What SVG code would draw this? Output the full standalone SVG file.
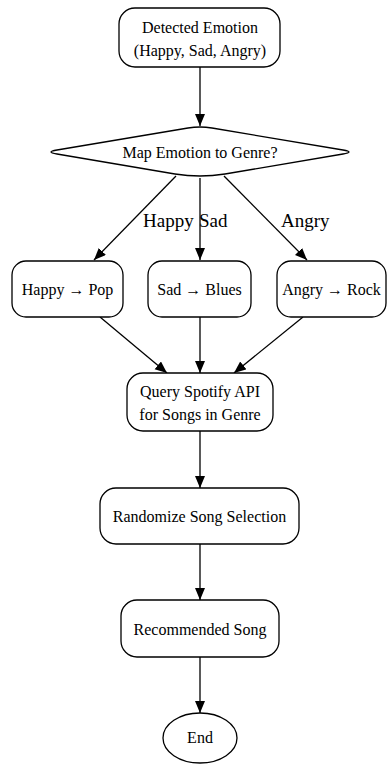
<svg xmlns="http://www.w3.org/2000/svg" width="387" height="767" viewBox="0 0 387 767">
<defs>
<marker id="ah" markerUnits="userSpaceOnUse" markerWidth="13" markerHeight="11" refX="12" refY="5" orient="auto">
<path d="M0,0 L12,5 L0,10 z" fill="#000"/>
</marker>
<style>
.n{fill:#fff;stroke:#000;stroke-width:1.3}
.t{font-size:16px;fill:#000;text-anchor:middle}
.l{font-size:19px;fill:#000}
.e{stroke:#000;stroke-width:1.3;fill:none;marker-end:url(#ah)}
</style>
</defs>
<rect width="387" height="767" fill="#fff"/>
<g font-family="Liberation Serif, DejaVu Serif, serif">
<g id="connectors">
<line class="e" x1="200" y1="67" x2="200" y2="126"/>
<line class="e" x1="176" y1="176" x2="94" y2="260"/>
<line class="e" x1="200" y1="178" x2="200" y2="260"/>
<line class="e" x1="224" y1="176" x2="307" y2="260"/>
<line class="e" x1="100" y1="317" x2="167" y2="373"/>
<line class="e" x1="200" y1="317" x2="200" y2="373"/>
<line class="e" x1="303" y1="317" x2="234" y2="373"/>
<line class="e" x1="200" y1="431" x2="200" y2="488"/>
<line class="e" x1="200" y1="544" x2="200" y2="600"/>
<line class="e" x1="200" y1="657" x2="200" y2="713"/>
<text class="l" x="143" y="227">Happy</text>
<text class="l" x="199" y="227">Sad</text>
<text class="l" x="281" y="227">Angry</text>
</g>
<g id="detected">
<rect class="n" x="119" y="8" width="161" height="59" rx="16"/>
<text class="t" x="200" y="33">Detected Emotion</text>
<text class="t" x="200" y="56">(Happy, Sad, Angry)</text>
</g>
<g id="map">
<path class="n" d="M57,150 L188,128 Q200,126 212,128 L343,150 Q355,152 343,154 L225,174 Q200,178 175,174 L57,154 Q45,152 57,150 Z"/>
<text class="t" x="200" y="158">Map Emotion to Genre?</text>
</g>
<g id="pop">
<rect class="n" x="12" y="261" width="111" height="56" rx="14"/>
<text class="t" x="67.5" y="295">Happy → Pop</text>
</g>
<g id="blues">
<rect class="n" x="148" y="261" width="103" height="56" rx="14"/>
<text class="t" x="199.5" y="295">Sad → Blues</text>
</g>
<g id="rock">
<rect class="n" x="277" y="261" width="109" height="56" rx="14"/>
<text class="t" x="331.5" y="295">Angry → Rock</text>
</g>
<g id="query">
<rect class="n" x="127" y="373" width="146" height="58" rx="16"/>
<text class="t" x="200" y="397">Query Spotify API</text>
<text class="t" x="200" y="420">for Songs in Genre</text>
</g>
<g id="randomize">
<rect class="n" x="100" y="488" width="199" height="56" rx="16"/>
<text class="t" x="199.5" y="522">Randomize Song Selection</text>
</g>
<g id="recommended">
<rect class="n" x="121" y="600" width="158" height="57" rx="16"/>
<text class="t" x="200" y="635">Recommended Song</text>
</g>
<g id="end">
<ellipse class="n" cx="200" cy="738" rx="37" ry="25"/>
<text class="t" x="200" y="743">End</text>
</g>
</g>
</svg>
